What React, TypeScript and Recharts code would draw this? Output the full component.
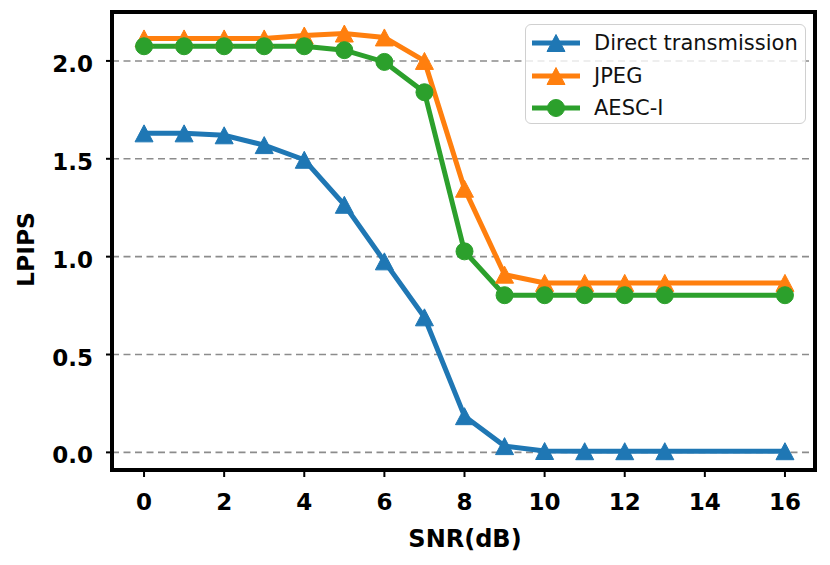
import { LineChart, Line, XAxis, YAxis, CartesianGrid, ReferenceArea, Legend } from 'recharts';

const snr = [0, 1, 2, 3, 4, 5, 6, 7, 8, 9, 10, 11, 12, 13, 16];
const directValues = [1.63, 1.63, 1.62, 1.57, 1.495, 1.265, 0.976, 0.69, 0.185, 0.032, 0.007, 0.006, 0.006, 0.006, 0.006];
const jpegValues = [2.115, 2.115, 2.115, 2.115, 2.13, 2.14, 2.12, 2.0, 1.347, 0.908, 0.866, 0.866, 0.866, 0.866, 0.866];
const aescValues = [2.075, 2.075, 2.075, 2.075, 2.075, 2.055, 1.995, 1.84, 1.027, 0.803, 0.803, 0.803, 0.803, 0.803, 0.803];

const xTicks = [0, 2, 4, 6, 8, 10, 12, 14, 16];
const yTicks = [0, 0.5, 1.0, 1.5, 2.0];

const series = [
  { key: 'direct', name: 'Direct transmission', color: '#1f77b4', marker: 'triangle' },
  { key: 'jpeg', name: 'JPEG', color: '#ff7f0e', marker: 'triangle' },
  { key: 'aesc', name: 'AESC-I', color: '#2ca02c', marker: 'circle' },
];

const data = snr.map((x, i) => ({
  snr: x,
  direct: directValues[i],
  jpeg: jpegValues[i],
  aesc: aescValues[i],
}));

const FONT = '"DejaVu Sans", sans-serif';

function Marker({ cx, cy, color, marker }: any) {
  if (cx == null || cy == null) return null;
  if (marker === 'circle') {
    return <circle cx={cx} cy={cy} r={8.5} fill={color} stroke={color} strokeWidth={1} />;
  }
  const w = 18;
  const h = 17;
  const pts = `${cx},${cy - h / 2} ${cx - w / 2},${cy + h / 2} ${cx + w / 2},${cy + h / 2}`;
  return <polygon points={pts} fill={color} stroke={color} strokeWidth={1} />;
}

const XTick = ({ x, y, payload }: any) => (
  <text x={x} y={y} dy={29} textAnchor="middle" fontFamily={FONT} fontWeight="bold" fontSize={23} fill="#000">
    {payload.value}
  </text>
);

const YTick = ({ x, y, payload }: any) => (
  <text x={x} y={y} dy={11} textAnchor="end" fontFamily={FONT} fontWeight="bold" fontSize={23} fill="#000">
    {Number(payload.value).toFixed(1)}
  </text>
);

const LegendBox = () => (
  <div
    style={{
      width: 281,
      height: 100,
      boxSizing: 'border-box',
      border: '1px solid #d0d0d0',
      borderRadius: 6,
      background: 'rgba(255,255,255,0.8)',
      fontFamily: FONT,
      fontSize: 21,
      color: '#111',
      paddingTop: 2,
    }}
  >
    {series.map((s) => (
      <div key={s.key} style={{ display: 'flex', alignItems: 'center', height: 32.5 }}>
        <svg width={62} height={24} style={{ marginLeft: 0, flex: 'none' }}>
          <line x1={6} y1={12} x2={54} y2={12} stroke={s.color} strokeWidth={5} />
          <Marker cx={30} cy={12} color={s.color} marker={s.marker} />
        </svg>
        <span style={{ marginLeft: 6, whiteSpace: 'nowrap' }}>{s.name}</span>
      </div>
    ))}
  </div>
);

export default function App() {
  return (
    <div style={{ position: 'absolute', left: 0, top: 0, width: 830, height: 565, background: '#fff' }}>
      <LineChart width={830} height={565} data={data} margin={{ top: 12, right: 15, bottom: 35, left: 0 }}>
        <CartesianGrid vertical={false} stroke="#8c8c8c" strokeWidth={1.6} strokeDasharray="7 4.5" />
        <XAxis
          dataKey="snr"
          type="number"
          domain={[-0.8, 16.75]}
          ticks={xTicks}
          allowDataOverflow
          axisLine={false}
          tickSize={7}
          tickMargin={4}
          tickLine={{ stroke: '#000', strokeWidth: 2 }}
          tick={<XTick />}
          height={60}
          label={() => (
            <text x={465} y={547} textAnchor="middle" fontFamily={FONT} fontWeight="bold" fontSize={24} fill="#000">
              SNR(dB)
            </text>
          )}
        />
        <YAxis
          type="number"
          domain={[-0.09, 2.25]}
          ticks={yTicks}
          allowDataOverflow
          axisLine={false}
          tickSize={6}
          tickMargin={13}
          tickLine={{ stroke: '#000', strokeWidth: 2 }}
          tick={<YTick />}
          width={112}
          label={() => (
            <text
              x={26}
              y={249.5}
              transform="rotate(-90 26 249.5)"
              textAnchor="middle"
              dominantBaseline="central"
              fontFamily={FONT}
              fontWeight="bold"
              fontSize={23.5}
              fill="#000"
            >
              LPIPS
            </text>
          )}
        />
        {series.map((s) => (
          <Line
            key={s.key}
            dataKey={s.key}
            name={s.name}
            stroke={s.color}
            strokeWidth={5}
            isAnimationActive={false}
            dot={(p: any) => <Marker key={`${s.key}-${p.index}`} cx={p.cx} cy={p.cy} color={s.color} marker={s.marker} />}
            activeDot={false}
          />
        ))}
        <ReferenceArea
          x1={-0.8}
          x2={16.75}
          y1={-0.09}
          y2={2.25}
          fill="none"
          fillOpacity={0}
          stroke="#000"
          strokeWidth={4}
          ifOverflow="visible"
        />
        <Legend
          layout="vertical"
          align="center"
          verticalAlign="middle"
          content={<LegendBox />}
          wrapperStyle={{ position: 'absolute', top: 24, left: 525, width: 281, height: 100 }}
        />
      </LineChart>
    </div>
  );
}
